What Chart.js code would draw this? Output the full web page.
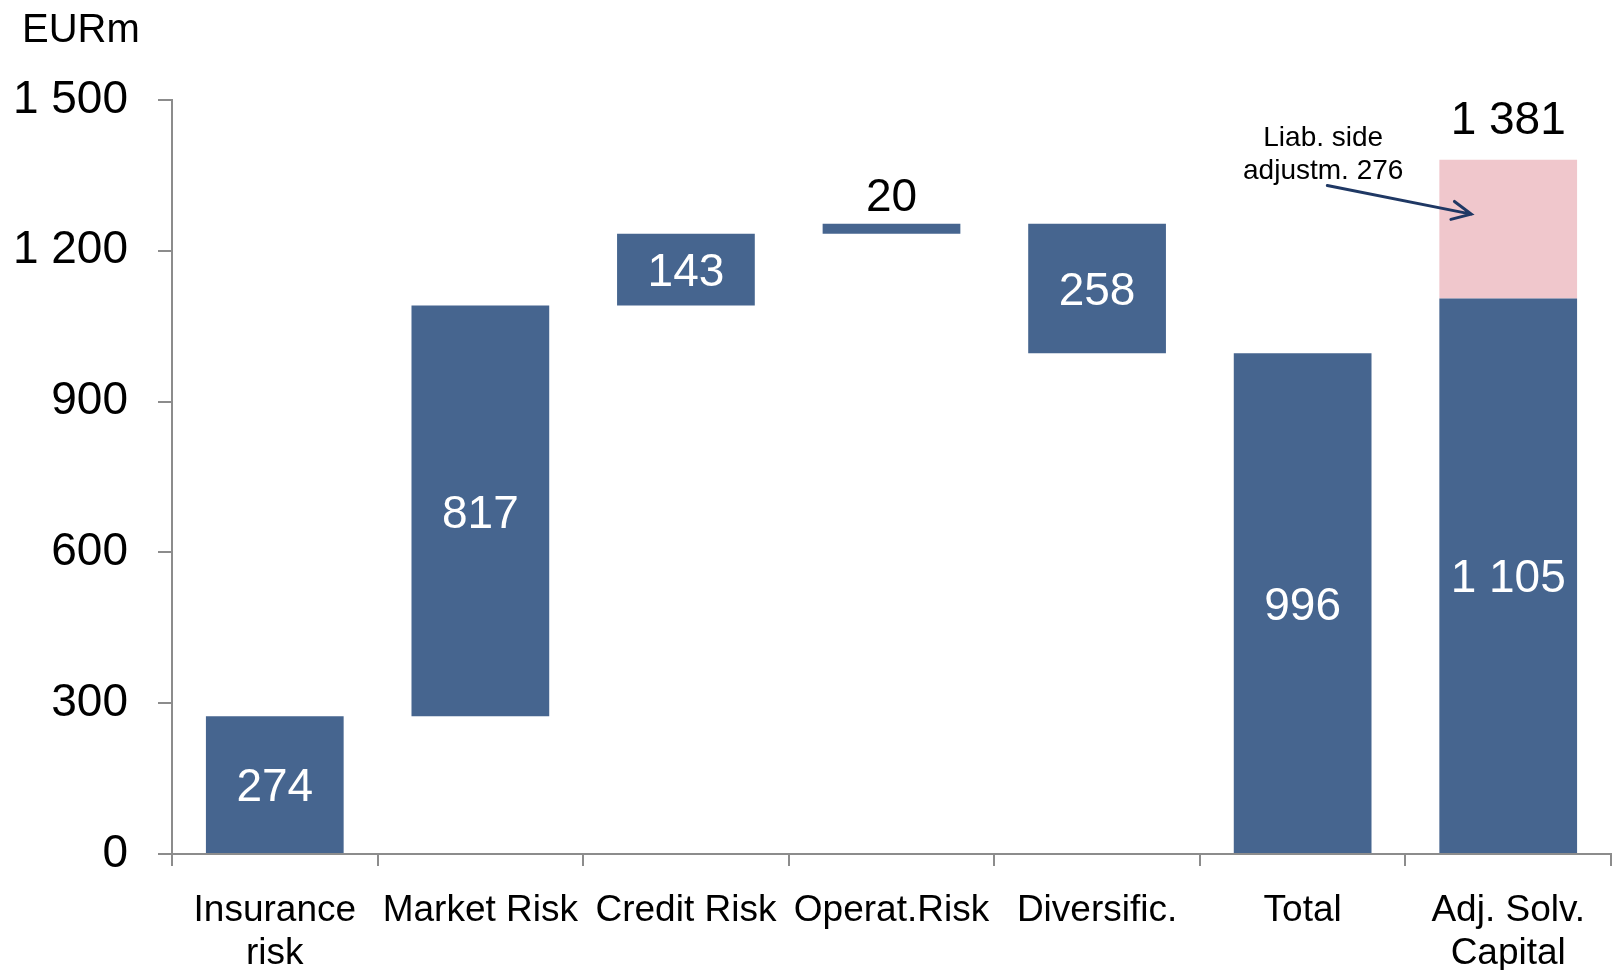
<!DOCTYPE html>
<html lang="en">
<head>
    <meta charset="UTF-8">
    <title>Solvency capital waterfall</title>
    <style>
        body {
            margin: 0;
            background-color: #fff;
        }
        .chart-container {
            width: 1612px;
            height: 970px;
            position: relative;
        }
    </style>
</head>
<body>
    <div class="chart-container">
        <canvas id="waterfallChart"></canvas>
    </div>
    <script src="https://cdn.jsdelivr.net/npm/chart.js"></script>
    <script>
        // values (EURm)
        const categories = [['Insurance', 'risk'], 'Market Risk', 'Credit Risk', 'Operat.Risk', 'Diversific.', 'Total', ['Adj. Solv.', 'Capital']];
        const riskSteps = [274, 817, 143, 20, -258];
        const totalValue = 996;
        const adjSolvBase = 1105;
        const liabAdjustment = 276;
        const yTicks = [0, 300, 600, 900, 1200, 1500];

        const FONT = "'Liberation Sans', Arial, sans-serif";
        const BLUE = '#46658f';
        const PINK = '#f0c7cc';

        function fmt(n) {
            return String(Math.abs(n)).replace(/\B(?=(\d{3})+(?!\d))/g, ' ');
        }

        // floating ranges for the waterfall
        const blueRanges = [];
        let running = 0;
        riskSteps.forEach(step => {
            const start = running;
            running += step;
            blueRanges.push([Math.min(start, running), Math.max(start, running)]);
        });
        blueRanges.push([0, totalValue]);
        blueRanges.push([0, adjSolvBase]);

        const pinkRanges = categories.map(() => null);
        pinkRanges[categories.length - 1] = [adjSolvBase, adjSolvBase + liabAdjustment];

        const blueLabels = riskSteps.map(fmt).concat([fmt(totalValue), fmt(adjSolvBase)]);

        const labelPlugin = {
            id: 'labels',
            afterDatasetsDraw(chart) {
                const ctx = chart.ctx;
                const x = chart.scales.x;
                const y = chart.scales.y;
                const meta = chart.getDatasetMeta(0);
                ctx.save();
                ctx.textAlign = 'center';
                ctx.textBaseline = 'middle';
                ctx.font = '46px ' + FONT;

                meta.data.forEach((bar, i) => {
                    if (i === 3) {
                        // thin bar: label above it
                        ctx.fillStyle = '#000';
                        ctx.fillText(blueLabels[i], bar.x, bar.y - 25);
                    } else {
                        ctx.fillStyle = '#fff';
                        ctx.fillText(blueLabels[i], bar.x, (bar.y + bar.base) / 2 + 4);
                    }
                });

                // total on top of the adjusted bar
                const last = categories.length - 1;
                const topBar = chart.getDatasetMeta(1).data[last];
                ctx.fillStyle = '#000';
                ctx.fillText(fmt(adjSolvBase + liabAdjustment), topBar.x, topBar.y - 39);

                // EURm unit
                ctx.textAlign = 'left';
                ctx.textBaseline = 'alphabetic';
                ctx.font = '40px ' + FONT;
                ctx.fillText('EURm', 22, 42);

                // annotation with arrow
                ctx.font = '28px ' + FONT;
                ctx.textAlign = 'center';
                ctx.textBaseline = 'middle';
                const tx = x.getPixelForValue(5.1);
                ctx.fillText('Liab. side', tx, y.getPixelForValue(1423));
                ctx.fillText('adjustm. ' + liabAdjustment, tx, y.getPixelForValue(1358));

                const x1 = x.getPixelForValue(5.12), y1 = y.getPixelForValue(1330);
                const x2 = x.getPixelForValue(5.82), y2 = y.getPixelForValue(1273);
                const ang = Math.atan2(y2 - y1, x2 - x1);
                const head = 21;
                ctx.strokeStyle = '#1f3864';
                ctx.lineWidth = 3;
                ctx.lineCap = 'round';
                ctx.beginPath();
                ctx.moveTo(x1, y1);
                ctx.lineTo(x2, y2);
                ctx.moveTo(x2 - head * Math.cos(ang - 0.45), y2 - head * Math.sin(ang - 0.45));
                ctx.lineTo(x2, y2);
                ctx.lineTo(x2 - head * Math.cos(ang + 0.45), y2 - head * Math.sin(ang + 0.45));
                ctx.stroke();
                ctx.restore();
            }
        };

        new Chart(document.getElementById('waterfallChart'), {
            type: 'bar',
            data: {
                labels: categories,
                datasets: [{
                    data: blueRanges,
                    backgroundColor: BLUE,
                    grouped: false,
                    categoryPercentage: 1,
                    barPercentage: 0.67
                }, {
                    data: pinkRanges,
                    backgroundColor: PINK,
                    grouped: false,
                    categoryPercentage: 1,
                    barPercentage: 0.67
                }]
            },
            options: {
                responsive: true,
                maintainAspectRatio: false,
                animation: false,
                layout: {
                    padding: { top: 100, right: 1, left: 0, bottom: 0 }
                },
                plugins: {
                    legend: { display: false },
                    tooltip: { enabled: false }
                },
                scales: {
                    x: {
                        border: { color: '#8c8c8c', width: 2 },
                        grid: {
                            drawOnChartArea: false,
                            color: '#8c8c8c',
                            lineWidth: 2,
                            tickLength: 12,
                            offset: true
                        },
                        ticks: {
                            color: '#000',
                            padding: 24,
                            maxRotation: 0,
                            autoSkip: false,
                            font: { family: FONT, size: 37, lineHeight: 1.15 }
                        },
                        afterFit: scale => { scale.height = 116; }
                    },
                    y: {
                        min: 0,
                        max: 1500,
                        border: { color: '#8c8c8c', width: 2 },
                        grid: {
                            drawOnChartArea: false,
                            color: '#8c8c8c',
                            lineWidth: 2,
                            tickLength: 14
                        },
                        afterBuildTicks: scale => {
                            scale.ticks = yTicks.map(v => ({ value: v }));
                        },
                        ticks: {
                            color: '#000',
                            padding: 30,
                            font: { family: FONT, size: 46 },
                            callback: v => fmt(v)
                        },
                        afterFit: scale => { scale.width = 172; }
                    }
                }
            },
            plugins: [labelPlugin]
        });
    </script>
</body>
</html>
